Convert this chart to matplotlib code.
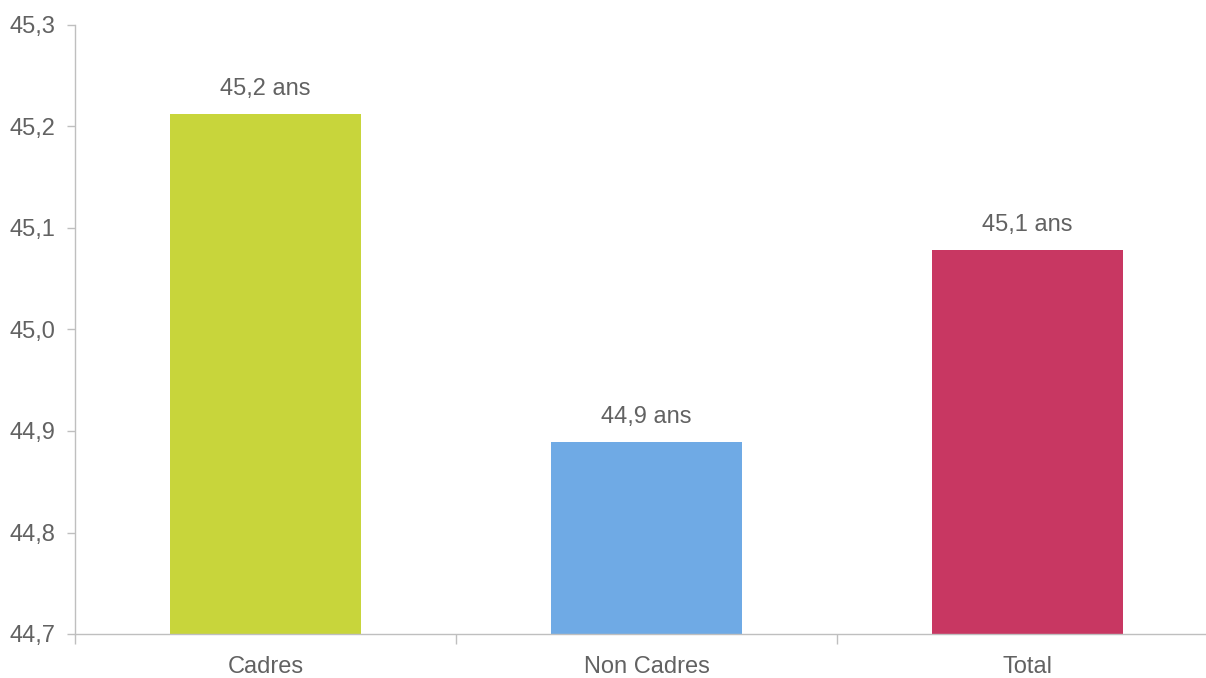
import matplotlib
matplotlib.use("Agg")
import matplotlib.pyplot as plt

categories = ["Cadres", "Non Cadres", "Total"]
values = [45.212, 44.889, 45.078]
labels = ["45,2 ans", "44,9 ans", "45,1 ans"]
colors = ["#C8D53B", "#6FAAE5", "#C83762"]
yticks = [44.7, 44.8, 44.9, 45.0, 45.1, 45.2, 45.3]

plt.rcParams['font.family'] = ['Liberation Sans', 'DejaVu Sans']
txt = "#626262"
axc = "#BFBFBF"
fs = 17

fig = plt.figure(figsize=(12.06, 6.78), dpi=100)
ax = fig.add_axes([75/1206, 44/678, 1143/1206, 609/678])
x = list(range(len(categories)))
ax.bar(x, [v - 44.7 for v in values], bottom=44.7, width=0.5, color=colors, zorder=2)
for xi, v, lab in zip(x, values, labels):
    ax.annotate(lab, (xi, v), xytext=(0, 10), textcoords="offset points",
                ha="center", va="bottom", fontsize=fs, color=txt)
ax.set_xlim(-0.5, 2.5)
ax.set_ylim(44.7, 45.3)
ax.set_yticks(yticks)
ax.set_yticklabels([f"{t:.1f}".replace(".", ",") for t in yticks])
ax.set_xticks(x)
ax.set_xticklabels(categories)
ax.set_xticks([-0.5, 0.5, 1.5, 2.5], minor=True)
ax.tick_params(axis="x", which="major", length=0, pad=16, labelsize=fs, labelcolor=txt)
ax.tick_params(axis="x", which="minor", length=7, color=axc, width=1)
ax.tick_params(axis="y", length=6, color=axc, width=1, labelsize=fs, labelcolor=txt, pad=8)
for s in ["top", "right"]:
    ax.spines[s].set_visible(False)
for s in ["left", "bottom"]:
    ax.spines[s].set_color(axc)
    ax.spines[s].set_linewidth(1)
fig.savefig("out.png", dpi=100)
